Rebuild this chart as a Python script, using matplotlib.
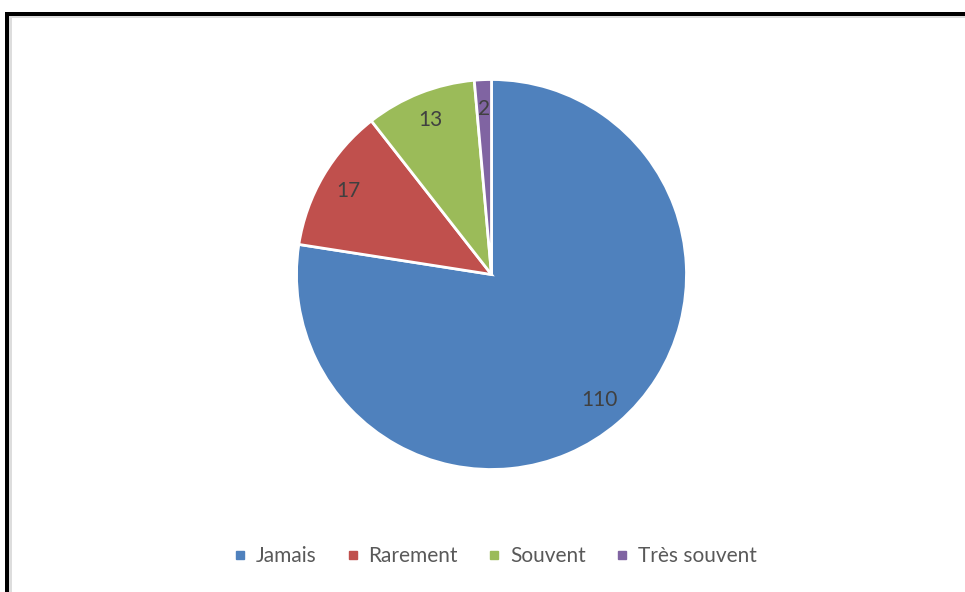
import matplotlib
matplotlib.use('Agg')
import matplotlib.pyplot as plt
from matplotlib.lines import Line2D
from matplotlib.patches import Rectangle

categories = ['Jamais', 'Rarement', 'Souvent', 'Très souvent']
values = [110, 17, 13, 2]
colors = ['#4F81BD', '#C0504D', '#9BBB59', '#8064A2']

plt.rcParams['font.family'] = ['Lato', 'DejaVu Sans']

W, H = 965, 592
fig = plt.figure(figsize=(W / 100, H / 100), dpi=100)

# pie centre (491, 274) px, radius 195 px
cx, cy, r = 491.5, 274.5, 195
ax = fig.add_axes([(cx - r) / W, (H - cy - r) / H, 2 * r / W, 2 * r / H])

wedges, texts, autotexts = ax.pie(
    values, colors=colors, startangle=90, counterclock=False,
    autopct=lambda p: '{:.0f}'.format(p * sum(values) / 100),
    pctdistance=0.85,
    wedgeprops=dict(edgecolor='white', linewidth=2),
    textprops=dict(color='#404040', fontsize=15))
ax.set_xlim(-1.0, 1.0)
ax.set_ylim(-1.0, 1.0)
ax.set_aspect('equal')

# legend
handles = [Line2D([], [], marker='s', linestyle='', markersize=6,
                  markerfacecolor=c, markeredgecolor=c) for c in colors]
fig.legend(handles, categories, loc='center', bbox_to_anchor=(495 / W, 1 - 556 / H),
           ncol=4, frameon=False, fontsize=15, labelcolor='#595959',
           handlelength=0.6, handletextpad=0.45, columnspacing=1.45)

# frame borders (black top & left, thin grey inner)
fig.patches.append(Rectangle((5 / W, 1 - 16 / H), 1, 4 / H, transform=fig.transFigure,
                             facecolor='black', edgecolor='none'))
fig.patches.append(Rectangle((5 / W, 0), 4 / W, 1 - 12 / H, transform=fig.transFigure,
                             facecolor='black', edgecolor='none'))
fig.patches.append(Rectangle((9 / W, 1 - 18 / H), 1, 2 / H, transform=fig.transFigure,
                             facecolor='#dddddd', edgecolor='none'))
fig.patches.append(Rectangle((9 / W, 0), 3 / W, 1 - 16 / H, transform=fig.transFigure,
                             facecolor='#dddddd', edgecolor='none'))

fig.savefig('out.png', dpi=100)
